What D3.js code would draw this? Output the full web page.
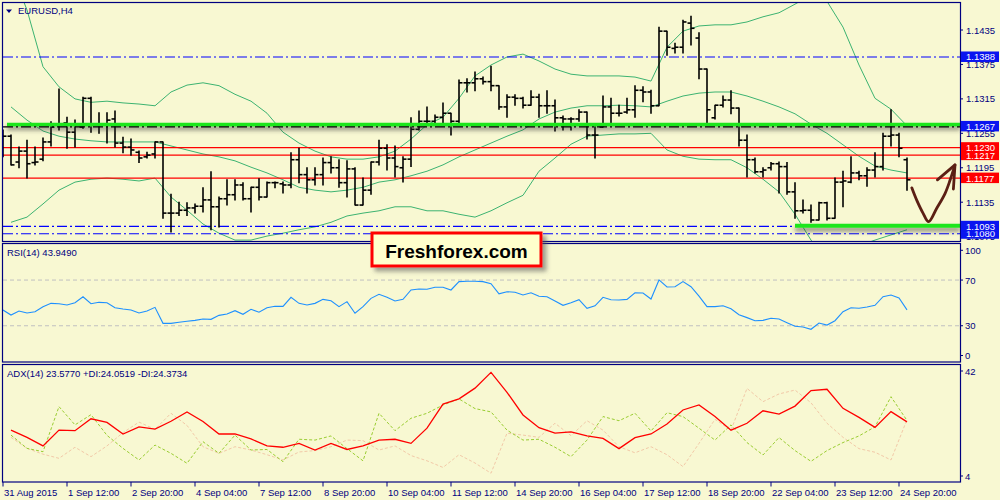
<!DOCTYPE html>
<html>
<head>
<meta charset="utf-8">
<script src="https://cdn.jsdelivr.net/npm/d3@7"></script>
<style>
  html, body { margin: 0; padding: 0; background: #f8f8d2; }
  svg { display: block; font-family: "Liberation Sans", Arial, sans-serif; }
</style>
</head>
<body>
<svg id="chart" width="1000" height="500"></svg>
<script>
// EURUSD H4 bars, 114 of them
const open = [1.1252,1.1250,1.1205,1.1224,1.1204,1.1210,1.1240,1.1270,1.1273,1.1257,
  1.1266,1.1316,1.1270,1.1271,1.1280,1.1238,1.1231,1.1222,1.1214,1.1219,
  1.1240,1.1116,1.1116,1.1121,1.1125,1.1128,1.1139,1.1127,1.1141,1.1148,
  1.1165,1.1141,1.1161,1.1144,1.1169,1.1167,1.1165,1.1209,1.1183,1.1174,
  1.1183,1.1204,1.1195,1.1169,1.1193,1.1130,1.1156,1.1205,1.1229,1.1212,
  1.1195,1.1210,1.1262,1.1276,1.1276,1.1283,1.1290,1.1276,1.1343,1.1343,
  1.1350,1.1345,1.1338,1.1301,1.1318,1.1316,1.1304,1.1318,1.1303,1.1303,
  1.1282,1.1280,1.1280,1.1292,1.1252,1.1266,1.1301,1.1290,1.1292,1.1296,
  1.1330,1.1327,1.1303,1.1433,1.1403,1.1405,1.1447,1.1421,1.1367,1.1282,
  1.1304,1.1313,1.1299,1.1243,1.1209,1.1188,1.1195,1.1202,1.1197,1.1153,
  1.1120,1.1121,1.1104,1.1134,1.1107,1.1170,1.1170,1.1186,1.1181,1.1191,
  1.1197,1.1250,1.1252,1.1209];
const high = [1.1261,1.1252,1.1231,1.1243,1.1231,1.1247,1.1275,1.1332,1.1283,1.1278,
  1.1318,1.1318,1.1291,1.1291,1.1294,1.1248,1.1245,1.1224,1.1222,1.1240,
  1.1240,1.1149,1.1135,1.1134,1.1132,1.1160,1.1188,1.1144,1.1174,1.1174,
  1.1169,1.1161,1.1176,1.1170,1.1170,1.1170,1.1221,1.1229,1.1195,1.1195,
  1.1212,1.1214,1.1209,1.1207,1.1195,1.1177,1.1205,1.1243,1.1235,1.1233,
  1.1214,1.1282,1.1294,1.1301,1.1287,1.1308,1.1290,1.1348,1.1350,1.1362,
  1.1353,1.1372,1.1338,1.1322,1.1322,1.1318,1.1329,1.1323,1.1329,1.1313,
  1.1285,1.1282,1.1296,1.1292,1.1271,1.1320,1.1316,1.1304,1.1316,1.1338,
  1.1336,1.1330,1.1440,1.1433,1.1412,1.1452,1.1459,1.1430,1.1367,1.1304,
  1.1320,1.1329,1.1299,1.1252,1.1212,1.1195,1.1204,1.1205,1.1204,1.1169,
  1.1139,1.1130,1.1135,1.1135,1.1177,1.1189,1.1214,1.1189,1.1195,1.1221,
  1.1255,1.1296,1.1255,1.1212];
const low = [1.1214,1.1200,1.1195,1.1177,1.1200,1.1207,1.1233,1.1261,1.1229,1.1231,
  1.1264,1.1257,1.1255,1.1238,1.1231,1.1221,1.1217,1.1204,1.1212,1.1212,
  1.1107,1.1083,1.1112,1.1112,1.1116,1.1118,1.1087,1.1092,1.1130,1.1139,
  1.1139,1.1118,1.1139,1.1144,1.1160,1.1151,1.1160,1.1169,1.1151,1.1165,
  1.1165,1.1186,1.1161,1.1144,1.1130,1.1130,1.1149,1.1200,1.1191,1.1179,
  1.1170,1.1197,1.1261,1.1273,1.1273,1.1273,1.1252,1.1273,1.1327,1.1329,
  1.1341,1.1329,1.1297,1.1283,1.1304,1.1299,1.1304,1.1283,1.1290,1.1259,
  1.1261,1.1261,1.1276,1.1245,1.1212,1.1266,1.1273,1.1285,1.1290,1.1283,
  1.1310,1.1290,1.1303,1.1391,1.1395,1.1395,1.1409,1.1350,1.1270,1.1280,
  1.1301,1.1289,1.1233,1.1179,1.1186,1.1179,1.1191,1.1151,1.1149,1.1107,
  1.1116,1.1100,1.1104,1.1104,1.1107,1.1127,1.1169,1.1174,1.1163,1.1179,
  1.1191,1.1233,1.1214,1.1156];
const close = [1.1250,1.1200,1.1224,1.1202,1.1205,1.1240,1.1266,1.1271,1.1257,1.1270,
  1.1316,1.1270,1.1270,1.1278,1.1238,1.1231,1.1226,1.1212,1.1217,1.1240,
  1.1116,1.1116,1.1121,1.1125,1.1128,1.1139,1.1127,1.1141,1.1148,1.1165,
  1.1141,1.1161,1.1144,1.1169,1.1169,1.1165,1.1209,1.1183,1.1174,1.1183,
  1.1204,1.1195,1.1169,1.1193,1.1130,1.1156,1.1205,1.1229,1.1212,1.1197,
  1.1210,1.1262,1.1276,1.1276,1.1283,1.1290,1.1276,1.1343,1.1343,1.1350,
  1.1345,1.1338,1.1301,1.1318,1.1316,1.1304,1.1318,1.1303,1.1303,1.1282,
  1.1280,1.1280,1.1292,1.1252,1.1252,1.1301,1.1290,1.1290,1.1296,1.1330,
  1.1327,1.1303,1.1433,1.1405,1.1405,1.1449,1.1438,1.1367,1.1296,1.1304,
  1.1313,1.1299,1.1243,1.1209,1.1188,1.1191,1.1202,1.1197,1.1153,1.1120,
  1.1121,1.1104,1.1134,1.1107,1.1170,1.1172,1.1186,1.1181,1.1191,1.1197,
  1.1250,1.1252,1.1229,1.1174];

// Bollinger bands and ADX lines, read at every second bar (1, 3, ... 113)
const lineBars = d3.range(1, 114, 2);
const bbUpper = [1.1540,1.1470,1.1371,1.1336,1.1315,1.1309,1.1311,1.1308,1.1306,1.1303,
  1.1327,1.1339,1.1343,1.1338,1.1323,1.1311,1.1290,1.1257,1.1238,1.1224,
  1.1214,1.1210,1.1210,1.1214,1.1224,1.1245,1.1270,1.1283,1.1316,1.1355,
  1.1374,1.1388,1.1393,1.1381,1.1367,1.1358,1.1355,1.1355,1.1355,1.1353,
  1.1346,1.1405,1.1433,1.1442,1.1444,1.1444,1.1449,1.1458,1.1465,1.1480,
  1.1496,1.1485,1.1440,1.1374,1.1316,1.1297,1.1268];
const bbMiddle = [1.1301,1.1278,1.1259,1.1250,1.1245,1.1242,1.1240,1.1240,1.1240,1.1240,
  1.1233,1.1226,1.1219,1.1214,1.1207,1.1196,1.1186,1.1174,1.1161,1.1156,
  1.1153,1.1156,1.1161,1.1170,1.1174,1.1181,1.1189,1.1200,1.1214,1.1226,
  1.1238,1.1250,1.1261,1.1280,1.1292,1.1299,1.1303,1.1303,1.1304,1.1303,
  1.1301,1.1311,1.1320,1.1325,1.1327,1.1327,1.1320,1.1311,1.1301,1.1289,
  1.1271,1.1255,1.1235,1.1215,1.1198,1.1191,1.1186];
const bbLower = [1.1100,1.1109,1.1132,1.1156,1.1170,1.1175,1.1177,1.1175,1.1172,1.1177,
  1.1144,1.1121,1.1097,1.1081,1.1069,1.1069,1.1076,1.1081,1.1087,1.1092,
  1.1100,1.1111,1.1116,1.1120,1.1127,1.1127,1.1120,1.1120,1.1114,1.1109,
  1.1120,1.1134,1.1147,1.1189,1.1212,1.1236,1.1250,1.1252,1.1254,1.1254,
  1.1255,1.1226,1.1215,1.1210,1.1209,1.1209,1.1195,1.1175,1.1153,1.1114,
  1.1069,1.1038,1.1038,1.1059,1.1069,1.1078,1.1087];

// RSI(14), every bar
const rsi = [43.8,39.4,42.9,41.2,42.3,46.7,49.6,49.3,48.2,50.2,
  55.4,49.3,50.5,50.2,45.8,44.7,43.8,41.2,42.9,46.1,
  32.1,32.1,33.0,33.9,34.7,35.9,35.6,39.1,40.3,43.2,
  40.0,44.4,41.8,45.8,47.0,47.0,54.9,49.6,48.2,49.6,
  53.1,51.9,46.7,51.1,40.9,46.7,54.0,57.5,54.9,51.7,
  53.1,61.3,62.2,61.9,63.7,63.7,61.3,68.6,68.9,68.9,
  68.6,66.8,58.0,59.8,59.3,56.9,58.9,55.8,55.4,51.7,
  47.9,50.2,52.8,45.3,47.5,54.9,52.8,52.5,53.1,58.9,
  58.7,53.4,70.1,63.9,64.2,68.6,64.2,56.0,46.7,46.7,
  47.5,44.9,39.7,37.1,34.4,34.7,36.5,35.9,32.7,29.5,
  28.9,26.9,32.4,30.6,34.4,42.3,45.8,45.3,46.4,47.9,
  55.4,56.9,54.3,43.9];

// ADX(14)
const adx = [20.6,18.0,14.9,20.6,20.4,24.7,23.4,19.2,21.8,21.0,
  23.8,27.2,23.7,19.2,19.2,17.4,14.9,14.4,15.8,13.4,
  15.8,13.6,14.9,17.0,17.3,15.8,21.3,30.0,31.9,35.8,
  41.5,34.3,26.1,21.5,19.5,20.0,18.5,17.6,13.9,17.9,
  19.2,22.8,27.9,29.7,25.5,20.6,23.1,27.6,26.4,29.3,
  34.9,35.4,28.5,25.2,21.6,27.3,23.6];
const plusDI = [18.8,14.0,12.8,29.1,22.5,26.2,18.7,14.0,9.8,15.2,
  12.2,8.6,16.4,12.2,18.8,13.4,13.6,9.2,17.3,17.0,
  18.5,13.9,9.5,26.7,20.4,24.9,26.7,29.7,31.9,28.4,
  27.2,20.6,17.0,17.3,14.4,11.0,17.0,25.5,24.0,26.7,
  20.3,26.9,25.5,21.3,17.0,22.5,16.1,11.6,17.9,13.2,
  9.3,13.2,16.1,18.5,21.8,32.7,24.1];
const minusDI = [18.0,14.0,11.9,10.4,14.4,11.0,14.9,19.7,23.5,20.9,
  26.7,22.3,14.6,12.2,14.6,13.4,11.7,9.8,12.7,13.2,
  14.6,17.0,16.8,13.4,14.9,11.4,9.5,7.1,11.7,8.7,
  5.0,19.5,18.8,18.0,23.1,18.6,24.0,20.6,14.6,12.4,
  14.6,11.7,7.4,15.8,24.5,20.6,35.7,30.9,33.7,35.1,
  30.5,23.1,18.0,13.9,12.6,9.8,24.4];

// time axis labels (bar index, text)
const timeBars = [0, 8, 16, 24, 32, 40, 48, 56, 64, 72, 80, 88, 96, 104, 112];
const timeLabels = ["31 Aug 2015", "1 Sep 12:00", "2 Sep 20:00", "4 Sep 04:00", "7 Sep 12:00",
  "8 Sep 20:00", "10 Sep 04:00", "11 Sep 12:00", "14 Sep 20:00", "16 Sep 04:00",
  "17 Sep 12:00", "18 Sep 20:00", "22 Sep 04:00", "23 Sep 12:00", "24 Sep 20:00"];

const priceTicks = [1.1435, 1.1375, 1.1315, 1.1255, 1.1195, 1.1135, 1.1075];
const blueLevels = [1.1388, 1.1093, 1.1080];
const redLevels = [1.1230, 1.1217, 1.1177];
const blackLevel = 1.1267;
const blueMarks = [1.1388, 1.1267, 1.1080, 1.1093];
const redMarks = [1.1217, 1.1230, 1.1177];
const rsiTicks = [100, 70, 30, 0];
const rsiLevels = [70, 30];
const adxTicks = [42, 4];

// hand drawn arrow (bar index, price)
const arrowPath = [[113.6,1.1160],[114.2,1.1139],[115.0,1.1116],[115.7,1.1101],
  [116.7,1.1124],[117.75,1.1150],[118.4,1.1174],[119.0,1.1200]];
const arrowHead = [[116.8,1.1174],[119.0,1.1200],[118.8,1.1158]];

const navy = "#000080";
const svg = d3.select("#chart");
const W = 1000, plotRight = 960;

const x = d3.scaleLinear().domain([0, 113]).range([3, 907]);
const y = d3.scaleLinear().domain([1.1435, 1.1135]).range([30, 202.2]);
const yR = d3.scaleLinear().domain([0, 100]).range([360, 245.8]);
const yA = d3.scaleLinear().domain([4, 42]).range([476, 371]);

const defs = svg.append("defs");
function clip(id, y0, h) {
  defs.append("clipPath").attr("id", id).append("rect")
    .attr("x", 3).attr("y", y0).attr("width", plotRight - 3).attr("height", h);
}
clip("cMain", 3, 238);
clip("cRsi", 244, 117);
clip("cAdx", 365, 116);
// filters in user space so that flat lines still get a shadow
defs.append("filter").attr("id", "shadow").attr("filterUnits", "userSpaceOnUse")
  .attr("x", 0).attr("y", 0).attr("width", W).attr("height", 500)
  .append("feDropShadow").attr("dx", 0).attr("dy", 3.5).attr("stdDeviation", 2)
  .attr("flood-color", "#333").attr("flood-opacity", 0.6);
defs.append("filter").attr("id", "logoShadow").attr("filterUnits", "userSpaceOnUse")
  .attr("x", 0).attr("y", 0).attr("width", W).attr("height", 500)
  .append("feDropShadow").attr("dx", 4).attr("dy", 4).attr("stdDeviation", 2)
  .attr("flood-color", "#555").attr("flood-opacity", 0.55);

svg.append("rect").attr("width", W).attr("height", 500).attr("fill", "#f8f8d2");

// ---------- main panel ----------
const main = svg.append("g").attr("clip-path", "url(#cMain)");
const dashDot = "10,3,2,3";

const bandLine = d3.line().x((d, k) => x(lineBars[k])).y(d => y(d));
[bbUpper, bbMiddle, bbLower].forEach(b => {
  main.append("path").attr("d", bandLine(b)).attr("fill", "none")
    .attr("stroke", "#3cb371").attr("stroke-width", 1);
});

blueLevels.forEach(p => {
  main.append("line").attr("x1", 3).attr("x2", plotRight).attr("y1", y(p)).attr("y2", y(p))
    .attr("stroke", "#0000ff").attr("stroke-width", 1.2).attr("stroke-dasharray", dashDot);
});
redLevels.forEach(p => {
  main.append("line").attr("x1", 3).attr("x2", plotRight).attr("y1", y(p)).attr("y2", y(p))
    .attr("stroke", "#ff0000").attr("stroke-width", 1.2);
});

// OHLC bars
const bars = main.append("g").attr("stroke", "#000").attr("stroke-width", 1.6);
const idx = d3.range(open.length);
bars.selectAll("line.hl").data(idx).join("line").attr("class", "hl")
  .attr("x1", i => x(i)).attr("x2", i => x(i))
  .attr("y1", i => y(high[i]) - 0.5).attr("y2", i => y(low[i]) + 0.5);
bars.selectAll("line.op").data(idx).join("line").attr("class", "op")
  .attr("x1", i => x(i) - 3.5).attr("x2", i => x(i))
  .attr("y1", i => y(open[i])).attr("y2", i => y(open[i]));
bars.selectAll("line.cl").data(idx).join("line").attr("class", "cl")
  .attr("x1", i => x(i)).attr("x2", i => x(i) + 3.5)
  .attr("y1", i => y(close[i])).attr("y2", i => y(close[i]));

// support / resistance strokes
main.append("line").attr("x1", x(0.5)).attr("x2", plotRight)
  .attr("y1", y(1.1270)).attr("y2", y(1.1270))
  .attr("stroke", "#1ee61e").attr("stroke-width", 3.8).attr("filter", "url(#shadow)");
main.append("line").attr("x1", 3).attr("x2", plotRight)
  .attr("y1", y(blackLevel) + 0.5).attr("y2", y(blackLevel) + 0.5)
  .attr("stroke", "#000").attr("stroke-width", 1.2).attr("stroke-dasharray", dashDot);
main.append("line").attr("x1", x(99)).attr("x2", plotRight)
  .attr("y1", y(1.1094)).attr("y2", y(1.1094))
  .attr("stroke", "#1ee61e").attr("stroke-width", 3.8).attr("filter", "url(#shadow)");

// arrow
const arrowLine = d3.line().x(d => x(d[0])).y(d => y(d[1])).curve(d3.curveCatmullRom);
svg.append("path").attr("d", arrowLine(arrowPath)).attr("fill", "none")
  .attr("stroke", "#5b1f14").attr("stroke-width", 2.8).attr("stroke-linecap", "round");
svg.append("path").attr("d", d3.line().x(d => x(d[0])).y(d => y(d[1]))(arrowHead))
  .attr("fill", "none").attr("stroke", "#5b1f14").attr("stroke-width", 2.8)
  .attr("stroke-linecap", "round").attr("stroke-linejoin", "round");

// ---------- RSI panel ----------
const rsiG = svg.append("g").attr("clip-path", "url(#cRsi)");
rsiLevels.forEach(v => {
  rsiG.append("line").attr("x1", 3).attr("x2", plotRight).attr("y1", yR(v)).attr("y2", yR(v))
    .attr("stroke", "#c0c0c0").attr("stroke-width", 1).attr("stroke-dasharray", "4,3");
});
rsiG.append("path")
  .attr("d", d3.line().x((d, i) => x(i)).y(d => yR(d))(rsi))
  .attr("fill", "none").attr("stroke", "#1e90ff").attr("stroke-width", 1.1);

// ---------- ADX panel ----------
const adxG = svg.append("g").attr("clip-path", "url(#cAdx)");
const adxLine = d3.line().x((d, k) => x(lineBars[k])).y(d => yA(d));
adxG.append("path").attr("d", adxLine(minusDI)).attr("fill", "none")
  .attr("stroke", "#f2c9a8").attr("stroke-width", 1).attr("stroke-dasharray", "3,2");
adxG.append("path").attr("d", adxLine(plusDI)).attr("fill", "none")
  .attr("stroke", "#9acd32").attr("stroke-width", 1).attr("stroke-dasharray", "3,2");
adxG.append("path").attr("d", adxLine(adx)).attr("fill", "none")
  .attr("stroke", "#ff0000").attr("stroke-width", 1.3);

// ---------- frames ----------
[[2.5, 239], [243.5, 118.5], [364.5, 117.5]].forEach(([y0, h]) => {
  svg.append("rect").attr("x", 2.5).attr("y", y0).attr("width", plotRight - 2)
    .attr("height", h).attr("fill", "none").attr("stroke", navy).attr("stroke-width", 1.2);
});

// ---------- right axis ----------
const axisG = svg.append("g").attr("font-size", "9.5px").attr("fill", navy);
priceTicks.forEach(p => {
  axisG.append("line").attr("x1", plotRight).attr("x2", plotRight + 3)
    .attr("y1", y(p)).attr("y2", y(p)).attr("stroke", navy);
  axisG.append("text").attr("x", 966).attr("y", y(p) + 3.5).text(p.toFixed(4));
});
function mark(p, col) {
  axisG.append("rect").attr("x", 961).attr("y", y(p) - 5.5).attr("width", 38)
    .attr("height", 10.5).attr("fill", col);
  axisG.append("text").attr("x", 966).attr("y", y(p) + 3.5).attr("fill", "#fff")
    .text(p.toFixed(4));
}
blueMarks.forEach(p => mark(p, "#0a14f0"));
redMarks.forEach(p => mark(p, "#ff0000"));

rsiTicks.forEach(v => {
  const off = v === 100 ? 4.5 : (v === 0 ? -4.5 : 0);
  axisG.append("line").attr("x1", plotRight).attr("x2", plotRight + 3)
    .attr("y1", yR(v) + off).attr("y2", yR(v) + off).attr("stroke", navy);
  axisG.append("text").attr("x", 965).attr("y", yR(v) + off + 3.5).text(v);
});
adxTicks.forEach(v => {
  axisG.append("line").attr("x1", plotRight).attr("x2", plotRight + 3)
    .attr("y1", yA(v)).attr("y2", yA(v)).attr("stroke", navy);
  axisG.append("text").attr("x", 965).attr("y", yA(v) + 3.5).text(v);
});

// ---------- time axis ----------
timeBars.forEach((b, k) => {
  axisG.append("line").attr("x1", x(b)).attr("x2", x(b)).attr("y1", 482).attr("y2", 486.5)
    .attr("stroke", navy);
  axisG.append("text").attr("x", x(b) + 1).attr("y", 495.5).text(timeLabels[k]);
});

// ---------- titles ----------
svg.append("path").attr("d", "M6,9.5 L12,9.5 L9,13 Z").attr("fill", navy);
axisG.append("text").attr("x", 18).attr("y", 14).text("EURUSD,H4");
axisG.append("text").attr("x", 7).attr("y", 256).text("RSI(14) 43.9490");
axisG.append("text").attr("x", 7).attr("y", 377)
  .text("ADX(14) 23.5770 +DI:24.0519 -DI:24.3734");

// ---------- logo ----------
const logo = svg.append("g");
logo.append("rect").attr("x", 372).attr("y", 233).attr("width", 169).attr("height", 33)
  .attr("fill", "#ffffcc").attr("stroke", "#ff0000").attr("stroke-width", 3)
  .attr("filter", "url(#logoShadow)");
logo.append("text").attr("x", 456.5).attr("y", 257.5).attr("text-anchor", "middle")
  .attr("font-size", "19px").attr("font-weight", "bold").attr("fill", "#000")
  .text("Freshforex.com");
</script>
</body>
</html>
